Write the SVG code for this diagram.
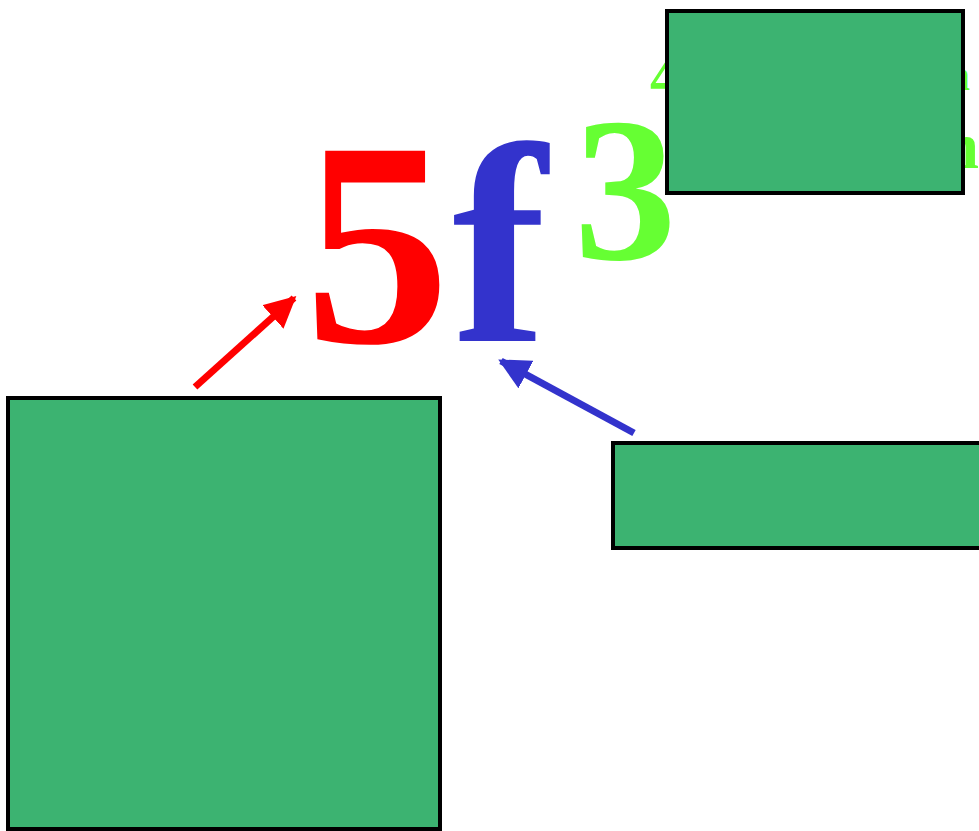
<svg xmlns="http://www.w3.org/2000/svg" width="979" height="831" viewBox="0 0 979 831">
<style>
.node{fill:#3cb371;stroke:#000;stroke-width:4}
text{font-family:'Times New Roman','Liberation Serif',Tinos,serif;font-weight:bold}
</style>
<defs>
<marker id="arR" viewBox="0 0 10 10" refX="9" refY="5" markerWidth="4.5" markerHeight="4.5" orient="auto" markerUnits="strokeWidth">
<path d="M0,0 L10,5 L0,10 z" fill="#ff0000"/>
</marker>
<marker id="arB" viewBox="0 0 10 10" refX="9" refY="5" markerWidth="4.5" markerHeight="4.5" orient="auto" markerUnits="strokeWidth">
<path d="M0,0 L10,5 L0,10 z" fill="#3333cc"/>
</marker>
</defs>
<rect width="979" height="831" fill="#fff"/>
<g id="label">
<text x="304" y="342" font-size="292" fill="#ff0000">5</text>
<text x="452" y="341" font-size="285" fill="#3333cc">f</text>
<text x="574" y="259" font-size="205" fill="#66ff33">3</text>
<text x="650" y="96" font-size="58" fill="#66ff33">4</text>
<text x="970" y="90" font-size="44" fill="#66ff33" text-anchor="end">n</text>
<text x="979" y="168" font-size="66" fill="#66ff33" text-anchor="end">n</text>
</g>
<g id="connectors">
<line x1="195" y1="387" x2="294" y2="298" stroke="#ff0000" stroke-width="7" marker-end="url(#arR)"/>
<line x1="634" y1="433" x2="501" y2="361" stroke="#3333cc" stroke-width="7" marker-end="url(#arB)"/>
</g>
<g id="node-top"><rect class="node" x="667" y="11" width="296" height="182"/></g>
<g id="node-left"><rect class="node" x="8" y="398" width="432" height="431"/></g>
<g id="node-right"><rect class="node" x="613" y="443" width="380" height="105"/></g>
</svg>
